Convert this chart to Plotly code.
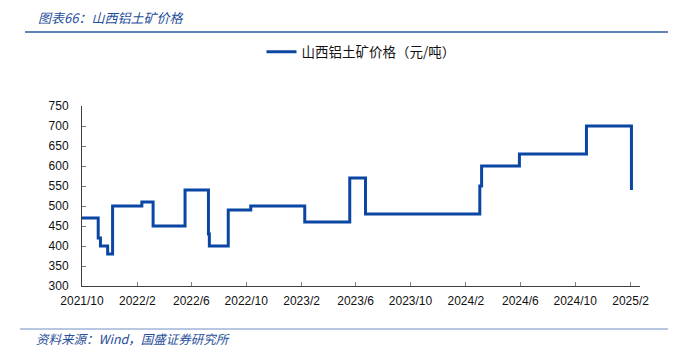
import plotly.graph_objects as go

# Shanxi bauxite price, step changes (date, CNY/t)
change_dates = [
    "2021-10-01", "2021-11-06", "2021-11-11", "2021-11-27", "2021-12-08",
    "2022-02-11", "2022-03-08", "2022-05-18", "2022-07-09", "2022-07-11",
    "2022-08-22", "2022-10-11", "2023-02-08", "2023-05-19", "2023-06-23",
    "2024-03-03", "2024-03-07", "2024-05-30", "2024-10-26", "2025-02-03",
]
prices = [
    470, 420, 400, 380, 500,
    510, 450, 540, 430, 400,
    490, 500, 460, 570, 480,
    550, 600, 630, 700, 540,
]

tick_dates = ["2021-10-01", "2022-02-01", "2022-06-01", "2022-10-01", "2023-02-01",
              "2023-06-01", "2023-10-01", "2024-02-01", "2024-06-01", "2024-10-01",
              "2025-02-01"]
tick_labels = ["2021/10", "2022/2", "2022/6", "2022/10", "2023/2", "2023/6",
               "2023/10", "2024/2", "2024/6", "2024/10", "2025/2"]

W, H = 682, 348
L, R, T, B = 82, 42, 106, 62
PW, PH = W - L - R, H - T - B


def px(x):
    return (x - L) / PW


def py(y):
    return (H - B - y) / PH


BLUE = "#0B46A3"
CJK = "Noto Sans CJK SC"
TXT = "#1F4E9A"

fig = go.Figure()
fig.add_trace(go.Scatter(
    x=change_dates, y=prices, mode="lines", line_shape="hv",
    line=dict(color=BLUE, width=3),
    name="山西铝土矿价格（元/吨）",
))

fig.update_layout(
    width=W, height=H,
    margin=dict(l=L, r=R, t=T, b=B),
    paper_bgcolor="white", plot_bgcolor="white",
    showlegend=True,
    legend=dict(orientation="h", x=0.5, xanchor="center", y=py(52), yanchor="middle",
                font=dict(family=CJK, size=13.5, color="#111111"),
                bgcolor="rgba(0,0,0,0)"),
    xaxis=dict(
        type="date", range=["2021-10-01", "2025-02-22"],
        tickvals=tick_dates, ticktext=tick_labels,
        ticks="inside", ticklen=4, tickcolor="#808080",
        showline=True, linecolor="#404040", linewidth=1,
        showgrid=False, zeroline=False,
        tickfont=dict(family="Liberation Sans", size=12, color="#111111"),
        ticklabelstandoff=4,
    ),
    yaxis=dict(
        range=[300, 750], dtick=50, tick0=300,
        ticks="inside", ticklen=4, tickcolor="#808080",
        showline=True, linecolor="#404040", linewidth=1,
        showgrid=False, zeroline=False,
        tickfont=dict(family="Liberation Sans", size=12, color="#111111"),
        ticklabelstandoff=10,
    ),
)

# header and footer
fig.add_annotation(text="<i>图表66：山西铝土矿价格</i>", xref="paper", yref="paper",
                   x=px(36), y=py(17), xanchor="left", yanchor="middle", showarrow=False,
                   font=dict(family=CJK, size=13, color=TXT))
fig.add_shape(type="line", xref="paper", yref="paper", x0=px(25), x1=px(668),
              y0=py(32), y1=py(32), line=dict(color="#2E5A9E", width=1.5))
fig.add_shape(type="line", xref="paper", yref="paper", x0=px(20), x1=px(668),
              y0=py(329), y1=py(329), line=dict(color="#7390C4", width=1))
fig.add_annotation(text="<i>资料来源：Wind，国盛证券研究所</i>", xref="paper", yref="paper",
                   x=px(34), y=py(338), xanchor="left", yanchor="middle", showarrow=False,
                   font=dict(family=CJK, size=12.5, color=TXT))

fig.write_html("out.html")
